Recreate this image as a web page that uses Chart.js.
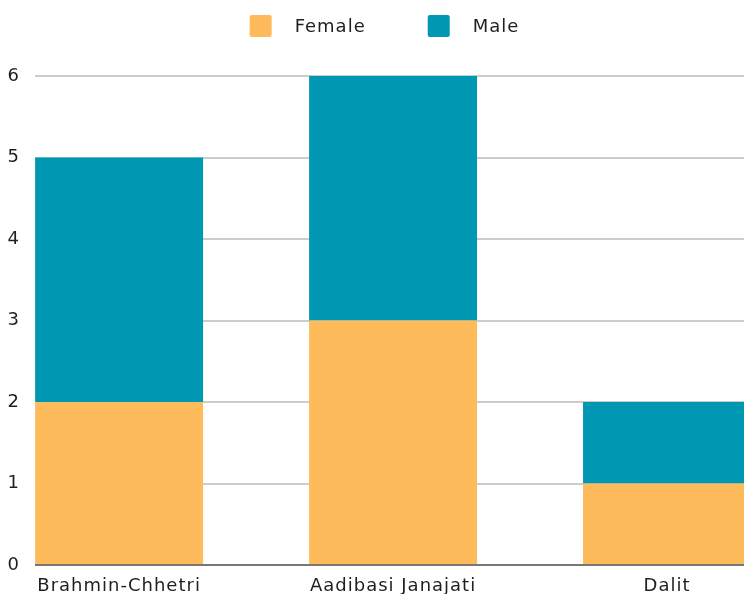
<!DOCTYPE html>
<html>
<head>
<meta charset="utf-8">
<script src="https://cdn.jsdelivr.net/npm/chart.js@4.4.1/dist/chart.umd.min.js"></script>
<style>
    html, body { margin: 0; padding: 0; background: #fff; }
</style>
</head>
<body>
<canvas id="chart" width="744" height="594"></canvas>
<script>

/* =========================
   DATA
========================= */

const categories = ["Brahmin-Chhetri", "Aadibasi Janajati", "Dalit"];
const femaleValues = [2, 3, 1];
const maleValues = [3, 3, 1];
const yTicks = [0, 1, 2, 3, 4, 5, 6];

const FONT = "'DejaVu Sans', sans-serif";
const TEXT = "#1f1f1f";

/* =========================
   LEGEND (drawn on canvas)
========================= */

const topLegend = {
    id: "topLegend",
    beforeDraw(chart) {
        chart.ctx.letterSpacing = "1px";
    },
    afterDraw(chart) {

        const ctx = chart.ctx;
        const sets = chart.data.datasets;
        const box = 22, gap = 23, spacing = 62;

        ctx.save();
        ctx.font = "18px " + FONT;
        ctx.textBaseline = "middle";

        const widths = sets.map(d => box + gap + ctx.measureText(d.label).width);
        const total = widths.reduce((a, b) => a + b, 0) + spacing * (sets.length - 1);

        let x = 384.5 - total / 2;

        sets.forEach((d, i) => {
            ctx.fillStyle = d.backgroundColor;
            ctx.beginPath();
            ctx.roundRect(x, 15, box, box, 2);
            ctx.fill();
            ctx.fillStyle = TEXT;
            ctx.fillText(d.label, x + box + gap, 27);
            x += widths[i] + spacing;
        });

        ctx.restore();
    }
};

/* =========================
   CHART
========================= */

const toPoints = arr => arr.map((v, i) => ({ x: i, y: v }));

new Chart(document.getElementById("chart"), {

    type: "bar",

    data: {
        datasets: [
            {
                label: "Female",
                data: toPoints(femaleValues),
                backgroundColor: "#FDBB5B"
            },
            {
                label: "Male",
                data: toPoints(maleValues),
                backgroundColor: "#0097B2"
            }
        ]
    },

    options: {
        responsive: false,
        animation: false,
        layout: { padding: { top: 76, right: 0, bottom: 0, left: 0 } },
        datasets: {
            bar: { barPercentage: 0.613, categoryPercentage: 1, borderWidth: 0 }
        },
        plugins: {
            legend: { display: false },
            tooltip: { enabled: false }
        },
        scales: {
            x: {
                type: "linear",
                stacked: true,
                offset: false,
                min: -0.307,
                max: 2.281,
                afterBuildTicks: s => { s.ticks = categories.map((_, i) => ({ value: i })); },
                afterFit: s => { s.height = 29; },
                ticks: {
                    callback: v => categories[v],
                    font: { family: FONT, size: 18 },
                    color: TEXT,
                    padding: 3,
                    maxRotation: 0,
                    autoSkip: false
                },
                grid: { display: false, offset: false },
                border: { display: false }
            },
            y: {
                stacked: true,
                min: 0,
                max: 6,
                afterBuildTicks: s => { s.ticks = yTicks.map(v => ({ value: v })); },
                afterFit: s => { s.width = 35; },
                ticks: {
                    font: { family: FONT, size: 18 },
                    color: TEXT,
                    padding: 15
                },
                grid: {
                    color: c => c.tick && c.tick.value === 0 ? "#777777" : "#cccccc",
                    lineWidth: 2,
                    drawTicks: false
                },
                border: { display: false }
            }
        }
    },

    plugins: [topLegend]
});

</script>
</body>
</html>
